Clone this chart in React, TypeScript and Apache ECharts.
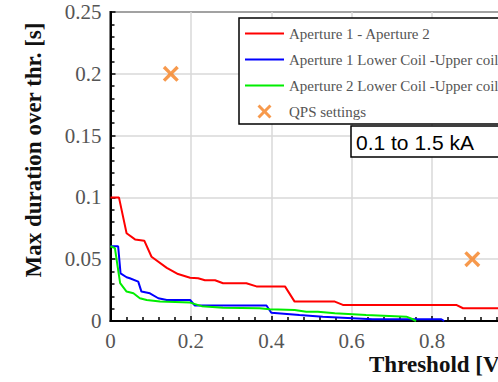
import React, { useEffect, useRef } from "react";
import * as echarts from "echarts";

const redX = [0, 0.021, 0.04, 0.061, 0.084, 0.102, 0.14, 0.168, 0.198, 0.218, 0.235, 0.26, 0.28, 0.338, 0.363, 0.434, 0.458, 0.558, 0.578, 0.86, 0.877, 1.0];
const redY = [0.1, 0.1, 0.071, 0.066, 0.065, 0.052, 0.043, 0.038, 0.035, 0.0346, 0.033, 0.033, 0.0305, 0.0305, 0.028, 0.028, 0.0157, 0.0157, 0.013, 0.013, 0.0103, 0.0103];

const blueX = [0, 0.019, 0.025, 0.04, 0.048, 0.069, 0.077, 0.098, 0.119, 0.14, 0.198, 0.21, 0.388, 0.4, 0.47, 0.528, 0.652, 0.823, 0.83];
const blueY = [0.0605, 0.0605, 0.0386, 0.0354, 0.0346, 0.0319, 0.0238, 0.0224, 0.0184, 0.017, 0.017, 0.0125, 0.0125, 0.0067, 0.0049, 0.0035, 0.0014, 0.0014, 0];

const greenX = [0, 0.011, 0.019, 0.024, 0.04, 0.057, 0.073, 0.09, 0.123, 0.198, 0.227, 0.28, 0.371, 0.396, 0.458, 0.487, 0.516, 0.558, 0.636, 0.736, 0.752, 0.76];
const greenY = [0.0605, 0.059, 0.0413, 0.0306, 0.0238, 0.0224, 0.0184, 0.017, 0.0157, 0.0149, 0.012, 0.0108, 0.0103, 0.0095, 0.0089, 0.0075, 0.0075, 0.0062, 0.0049, 0.0035, 0.0014, 0];

const qpsX = [0.15, 0.9];
const qpsY = [0.2, 0.05];

const seriesNames = [
  "Aperture 1 - Aperture 2",
  "Aperture 1 Lower Coil -Upper coil",
  "Aperture 2 Lower Coil -Upper coil",
  "QPS settings",
];

const xTitle = "Threshold [V]";
const yTitle = "Max duration over thr. [s]";
const boxLabel = "0.1 to 1.5 kA";

const zip = (xs: number[], ys: number[]) => xs.map((x, i) => [x, ys[i]]);

const XSYM = "path://M0,3 L3,0 L10,7 L17,0 L20,3 L13,10 L20,17 L17,20 L10,13 L3,20 L0,17 L7,10 Z";
const LINESYM = "path://M0,0 H40 V2 H0 Z";

export default function App() {
  const ref = useRef<HTMLDivElement>(null);
  useEffect(() => {
    if (!ref.current) return;
    const chart = echarts.init(ref.current, undefined, { renderer: "svg" });
    const serif = "'Liberation Serif', 'Times New Roman', serif";
    const tickRich = { s: { fontFamily: serif, fontSize: 21, color: "#555" } };
    chart.setOption({
      animation: false,
      backgroundColor: "#fff",
      textStyle: { fontFamily: serif },
      grid: {
        left: 110.5,
        top: 12,
        width: 402,
        height: 309,
        show: true,
        borderColor: "#000",
        borderWidth: 2,
        backgroundColor: "transparent",
        containLabel: false,
        outerBoundsMode: "none",
      },
      legend: {
        orient: "vertical",
        left: 239,
        top: 18,
        backgroundColor: "#fff",
        borderColor: "#000",
        borderWidth: 1.5,
        borderRadius: 0,
        padding: [8, 10, 5, 6],
        itemWidth: 39,
        itemHeight: 14,
        itemGap: 11,
        textStyle: { fontFamily: serif, fontSize: 15, color: "#555" },
        data: [
          { name: seriesNames[0], icon: LINESYM },
          { name: seriesNames[1], icon: LINESYM },
          { name: seriesNames[2], icon: LINESYM },
          { name: seriesNames[3], icon: XSYM },
        ],
      },
      xAxis: {
        type: "value",
        min: 0,
        max: 1,
        interval: 0.2,
        axisLine: { lineStyle: { color: "#000", width: 2 } },
        axisTick: { inside: true, length: 5, lineStyle: { color: "#000", width: 1.5 } },
        minorTick: { show: true, splitNumber: 5, length: 4, lineStyle: { color: "#000", width: 1.5 } },
        axisLabel: {
          fontFamily: serif,
          fontSize: 21,
          color: "#555",
          margin: 9,
          showMaxLabel: false,
          formatter: "{s|{value}}",
          rich: tickRich,
        },
        splitLine: { show: true, lineStyle: { color: "#d8d8d8", width: 1.5 } },
      },
      yAxis: {
        type: "value",
        min: 0,
        max: 0.25,
        interval: 0.05,
        axisLine: { show: true, lineStyle: { color: "#000", width: 2 } },
        axisTick: { show: true, inside: true, length: 5, lineStyle: { color: "#000", width: 1.5 } },
        minorTick: { show: true, splitNumber: 5, length: 4, lineStyle: { color: "#000", width: 1.5 } },
        axisLabel: {
          fontFamily: serif,
          fontSize: 21,
          color: "#555",
          margin: 9,
          formatter: "{s|{value}}",
          rich: tickRich,
        },
        splitLine: { show: true, lineStyle: { color: "#d8d8d8", width: 1.5 } },
      },
      series: [
        {
          name: seriesNames[0],
          type: "line",
          symbol: "none",
          data: zip(redX, redY),
          lineStyle: { color: "#ff0000", width: 2 },
          itemStyle: { color: "#ff0000" },
          z: 3,
        },
        {
          name: seriesNames[1],
          type: "line",
          symbol: "none",
          data: zip(blueX, blueY),
          lineStyle: { color: "#0000ff", width: 2 },
          itemStyle: { color: "#0000ff" },
          z: 4,
        },
        {
          name: seriesNames[2],
          type: "line",
          symbol: "none",
          data: zip(greenX, greenY),
          lineStyle: { color: "#00ee00", width: 2 },
          itemStyle: { color: "#00ee00" },
          z: 5,
        },
        {
          name: seriesNames[3],
          type: "scatter",
          symbol: XSYM,
          symbolSize: 16,
          data: zip(qpsX, qpsY),
          itemStyle: { color: "#f5801f" },
          z: 6,
        },
      ],
      graphic: [
        {
          type: "text",
          x: 33,
          y: 150,
          rotation: Math.PI / 2,
          style: {
            text: yTitle,
            fontFamily: serif,
            fontWeight: "bold",
            fontSize: 23,
            fill: "#111",
            align: "center",
            verticalAlign: "middle",
          },
        },
        {
          type: "text",
          x: 369,
          y: 364,
          style: {
            text: xTitle,
            fontFamily: serif,
            fontWeight: "bold",
            fontSize: 23,
            fill: "#111",
            align: "left",
            verticalAlign: "middle",
          },
        },
        {
          type: "rect",
          shape: { x: 351, y: 126, width: 170, height: 31 },
          style: { fill: "#fff", stroke: "#000", lineWidth: 1.5 },
          z: 100,
        },
        {
          type: "text",
          x: 356,
          y: 142,
          z: 101,
          style: {
            text: boxLabel,
            fontFamily: "'Liberation Sans', Arial, sans-serif",
            fontSize: 21,
            fill: "#000",
            align: "left",
            verticalAlign: "middle",
          },
        },
      ],
    });
    return () => chart.dispose();
  }, []);
  return (
    <div
      ref={ref}
      style={{ position: "fixed", left: 0, top: 0, width: 498, height: 382 }}
    />
  );
}
